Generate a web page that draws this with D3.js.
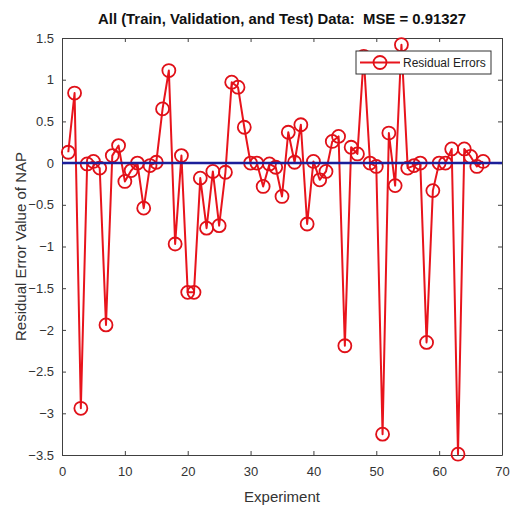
<!DOCTYPE html>
<html><head><meta charset="utf-8">
<script src="https://cdn.jsdelivr.net/npm/d3@7"></script>
<style>body{margin:0;background:#fff;} svg{display:block;}</style>
</head><body>
<script>
const titleText = "All (Train, Validation, and Test) Data:  MSE = 0.91327";
const xLabel = "Experiment";
const yLabel = "Residual Error Value of NAP";
const legendLabel = "Residual Errors";
const xTicks = [0,10,20,30,40,50,60,70];
const yTicks = [1.5,1,0.5,0,-0.5,-1,-1.5,-2,-2.5,-3,-3.5];
const residuals = [0.13,0.84,-2.94,-0.01,0.02,-0.06,-1.94,0.09,0.21,-0.22,
  -0.09,0.00,-0.54,-0.03,0.01,0.65,1.11,-0.97,0.09,-1.55,
  -1.55,-0.18,-0.78,-0.10,-0.75,-0.11,0.97,0.91,0.43,0.00,
  0.00,-0.28,-0.01,-0.05,-0.40,0.37,0.01,0.46,-0.73,0.02,
  -0.20,-0.10,0.26,0.32,-2.19,0.19,0.11,1.28,0.00,-0.04,
  -3.25,0.36,-0.27,1.42,-0.06,-0.03,0.00,-2.15,-0.33,0.00,
  0.00,0.17,-3.49,0.17,0.08,-0.04,0.02];
const experiments = residuals.map((_, i) => i + 1);

const W = 511, H = 506;
const m = {left: 62, right: 9, top: 38, bottom: 51};
const svg = d3.select("body").append("svg").attr("width", W).attr("height", H);
const x = d3.scaleLinear().domain([0,70]).range([m.left, W - m.right]);
const y = d3.scaleLinear().domain([-3.5,1.5]).range([H - m.bottom, m.top]);
const font = "Liberation Sans, Arial, sans-serif";

// axes box
const g = svg.append("g");
const ax = g.append("g").attr("transform", `translate(0,${y(-3.5)})`)
  .call(d3.axisBottom(x).tickValues(xTicks).tickSizeInner(-4).tickSizeOuter(0).tickPadding(12));
const axT = g.append("g").attr("transform", `translate(0,${y(1.5)})`)
  .call(d3.axisTop(x).tickValues(xTicks).tickSizeInner(-4).tickSizeOuter(0).tickFormat(""));
const ay = g.append("g").attr("transform", `translate(${x(0)},0)`)
  .call(d3.axisLeft(y).tickValues(yTicks).tickSizeInner(-4).tickSizeOuter(0).tickPadding(8).tickFormat(d3.format("")));
const ayR = g.append("g").attr("transform", `translate(${x(70)},0)`)
  .call(d3.axisRight(y).tickValues(yTicks).tickSizeInner(-4).tickSizeOuter(0).tickFormat(""));
[ax, axT, ay, ayR].forEach(a => {
  a.selectAll("path").attr("stroke", "#404040").attr("stroke-width", 1);
  a.selectAll("line").attr("stroke", "#404040");
  a.selectAll("text").attr("font-family", font).attr("font-size", 13).attr("fill", "#333");
});

// series
const line = d3.line().x((d,i) => x(experiments[i])).y(d => y(d));
svg.append("path").datum(residuals).attr("d", line)
  .attr("fill", "none").attr("stroke", "#e8141c").attr("stroke-width", 2).attr("stroke-linejoin", "round");
svg.append("g").selectAll("circle").data(residuals).join("circle")
  .attr("cx", (d,i) => x(experiments[i])).attr("cy", d => y(d)).attr("r", 6.5)
  .attr("fill", "none").attr("stroke", "#e01018").attr("stroke-width", 1.8);

// zero line
svg.append("line").attr("x1", x(0)).attr("x2", x(70)).attr("y1", y(0)).attr("y2", y(0))
  .attr("stroke", "#1b1f9a").attr("stroke-width", 2.5);

// title & labels
svg.append("text").attr("x", 282).attr("y", 24).attr("text-anchor", "middle")
  .attr("font-family", font).attr("font-weight", "bold").attr("font-size", 14).attr("fill", "#111")
  .style("white-space", "pre").attr("xml:space", "preserve")
  .attr("textLength", 368).attr("lengthAdjust", "spacingAndGlyphs").text(titleText);
svg.append("text").attr("x", (x(0)+x(70))/2).attr("y", 502).attr("text-anchor", "middle")
  .attr("font-family", font).attr("font-size", 15).attr("fill", "#333").text(xLabel);
svg.append("text").attr("transform", `translate(26,${(y(1.5)+y(-3.5))/2}) rotate(-90)`)
  .attr("text-anchor", "middle").attr("font-family", font).attr("font-size", 15).attr("fill", "#333").text(yLabel);

// legend
const lg = svg.append("g").attr("transform", "translate(356,51)");
lg.append("rect").attr("width", 135).attr("height", 23).attr("fill", "#fff").attr("stroke", "#333").attr("stroke-width", 1);
lg.append("line").attr("x1", 4).attr("x2", 44).attr("y1", 11.5).attr("y2", 11.5).attr("stroke", "#e8141c").attr("stroke-width", 2);
lg.append("circle").attr("cx", 24).attr("cy", 11.5).attr("r", 6.5).attr("fill", "none").attr("stroke", "#e01018").attr("stroke-width", 1.8);
lg.append("text").attr("x", 47).attr("y", 16).attr("font-family", font).attr("font-size", 12).attr("fill", "#222").text(legendLabel);
</script>
</body></html>
